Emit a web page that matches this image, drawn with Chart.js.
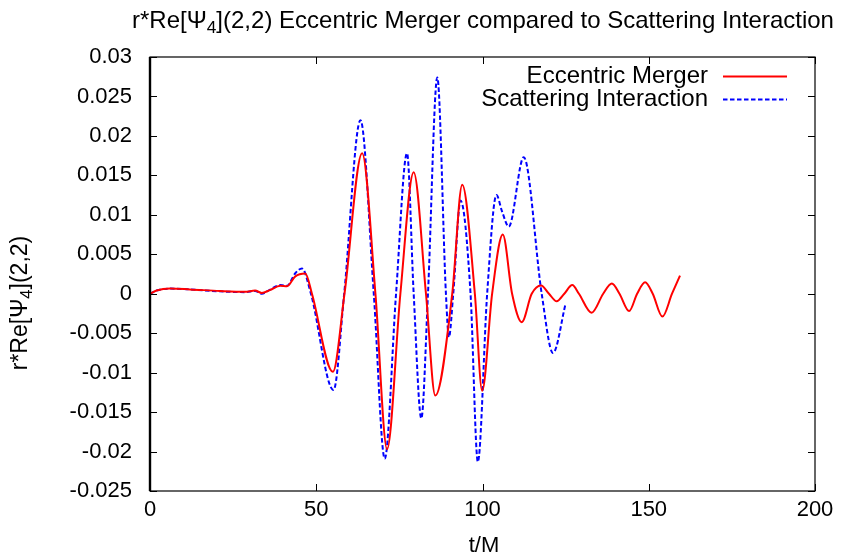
<!DOCTYPE html>
<html>
<head>
<meta charset="utf-8">
<script src="https://cdn.jsdelivr.net/npm/chart.js@4/dist/chart.umd.min.js"></script>
<style>
  html, body { margin: 0; padding: 0; background: #fff; }
  #wrap { width: 843px; height: 557px; }
</style>
</head>
<body>
<div id="wrap"><canvas id="c" width="843" height="557"></canvas></div>
<script>
// eccentric merger, r*Re[Psi4](2,2) vs t/M
const mergerT = [0, 2, 6, 12, 21, 28.6, 31.6, 33.6, 36, 39.2, 41.2, 43.7, 46.7, 48.7, 55.0, 58.5, 63.8, 67.8, 71.3, 75.3,
  79.3, 83.0, 85.8, 90.9, 93.9, 97.7, 99.9, 102.9, 106.1, 108.9, 111.8, 114.8, 117.6, 120.0, 122.3, 124.6, 127.0,
  129.0, 132.8, 136.3, 138.9, 141.2, 144.1, 146.5, 148.9, 151.2, 154.1, 157.0, 159.4]
const mergerV = [0, 0.0004, 0.00065, 0.00055, 0.00035, 0.00025, 0.0004, 0.0001, 0.00045, 0.001, 0.00095, 0.0022, 0.00255,
  0, -0.0099, 0, 0.0178, 0, -0.0197, 0, 0.0154, 0, -0.0129, 0, 0.0138, 0, -0.0123, 0, 0.0075, 0, -0.0036, 0, 0.00105,
  0, -0.00096, 0, 0.0011, 0, -0.0024, 0, 0.0013, 0, -0.0022, 0, 0.00145, 0, -0.0029, 0, 0.0023]

// scattering interaction
const scatterT = [0, 2, 6, 12, 21, 28.6, 31.6, 33.6, 36, 39.2, 41.2, 43.7, 45.7, 48.4, 55.2, 58.4, 63.3, 67.3, 70.6, 74.0,
  77.3, 79.3, 81.6, 83.6, 86.4, 89.0, 89.9, 91.2, 93.4, 96.4, 98.6, 101.4, 104.2, 105.9, 107.9, 112.4, 117.8, 121.2, 125.0]
const scatterV = [0, 0.0004, 0.00065, 0.00055, 0.0003, 0.0002, 0.00035, 0, 0.0005, 0.0011, 0.001, 0.0026, 0.0032,
  0, -0.0122, 0, 0.022, 0, -0.0209, 0, 0.0178, 0, -0.0158, 0, 0.0274, 0, -0.0055, 0, 0.0118, 0, -0.0213, 0, 0.0125,
  0.0104, 0.0085, 0.0173, 0, -0.0075, -0.00125]

const xTicks = [0, 50, 100, 150, 200]
const yTicks = [-0.025, -0.02, -0.015, -0.01, -0.005, 0, 0.005, 0.01, 0.015, 0.02, 0.025, 0.03]
const yTickLabels = ['-0.025', '-0.02', '-0.015', '-0.01', '-0.005', '0', '0.005', '0.01', '0.015', '0.02', '0.025', '0.03']

const FONT = '"Liberation Sans", Arial, sans-serif'

function toPoints(ts, vs) {
  return ts.map((t, i) => ({ x: t, y: vs[i] }))
}

// text with one subscript piece, e.g. Psi_4
function subText(ctx, parts, x, y, size) {
  const widths = parts.map(p => {
    ctx.font = (p[1] ? size * 0.72 : size) + 'px ' + FONT
    return ctx.measureText(p[0]).width
  })
  let cx = x - widths.reduce((a, b) => a + b, 0) / 2
  ctx.textAlign = 'left'
  ctx.textBaseline = 'middle'
  parts.forEach((p, i) => {
    ctx.font = (p[1] ? size * 0.72 : size) + 'px ' + FONT
    ctx.fillText(p[0], cx, p[1] ? y + size * 0.3 : y)
    cx += widths[i]
  })
}

const decor = {
  id: 'decor',
  afterDraw(chart) {
    const { ctx, chartArea: a, scales: { x, y } } = chart
    ctx.save()
    ctx.strokeStyle = '#000'
    ctx.fillStyle = '#000'

    // frame
    ctx.lineWidth = 1.2
    ctx.strokeRect(a.left, a.top, a.right - a.left, a.bottom - a.top)
    ctx.lineWidth = 2.4
    ctx.beginPath()
    ctx.moveTo(a.left, a.top)
    ctx.lineTo(a.left, a.bottom)
    ctx.stroke()

    // inward ticks, mirrored
    const tl = 7
    ctx.lineWidth = 1
    ctx.beginPath()
    xTicks.forEach(v => {
      const px = Math.round(x.getPixelForValue(v)) + 0.5
      ctx.moveTo(px, a.bottom); ctx.lineTo(px, a.bottom - tl)
      ctx.moveTo(px, a.top); ctx.lineTo(px, a.top + tl)
    })
    yTicks.forEach(v => {
      const py = Math.round(y.getPixelForValue(v)) + 0.5
      ctx.moveTo(a.left, py); ctx.lineTo(a.left + tl, py)
      ctx.moveTo(a.right, py); ctx.lineTo(a.right - tl, py)
    })
    ctx.stroke()

    // title
    subText(ctx, [['r*Re[Ψ', 0], ['4', 1], ['](2,2) Eccentric Merger compared to Scattering Interaction', 0]], 483, 21, 24)

    // axis titles
    ctx.font = '22px ' + FONT
    ctx.textAlign = 'center'
    ctx.textBaseline = 'middle'
    ctx.fillText('t/M', 484, 546)
    ctx.save()
    ctx.translate(21, 303)
    ctx.rotate(-Math.PI / 2)
    subText(ctx, [['r*Re[Ψ', 0], ['4', 1], ['](2,2)', 0]], 0, 0, 23)
    ctx.restore()

    // legend
    const rows = [
      { label: 'Eccentric Merger', ds: chart.data.datasets[0], y: 76 },
      { label: 'Scattering Interaction', ds: chart.data.datasets[1], y: 99 },
    ]
    rows.forEach(r => {
      ctx.font = '24px ' + FONT
      ctx.textAlign = 'right'
      ctx.textBaseline = 'middle'
      ctx.fillStyle = '#000'
      ctx.fillText(r.label, 708, r.y)
      ctx.strokeStyle = r.ds.borderColor
      ctx.lineWidth = r.ds.borderWidth
      ctx.setLineDash(r.ds.borderDash || [])
      ctx.beginPath()
      ctx.moveTo(723, r.y + 0.5)
      ctx.lineTo(787, r.y + 0.5)
      ctx.stroke()
      ctx.setLineDash([])
    })
    ctx.restore()
  }
}

new Chart(document.getElementById('c'), {
  type: 'line',
  data: {
    datasets: [
      {
        label: 'Eccentric Merger',
        data: toPoints(mergerT, mergerV),
        borderColor: '#ff0000',
        borderWidth: 2,
        pointRadius: 0,
        cubicInterpolationMode: 'monotone',
      },
      {
        label: 'Scattering Interaction',
        data: toPoints(scatterT, scatterV),
        borderColor: '#0000ff',
        borderWidth: 2,
        borderDash: [4.5, 2.5],
        pointRadius: 0,
        cubicInterpolationMode: 'monotone',
      }
    ]
  },
  options: {
    responsive: false,
    animation: false,
    layout: { padding: { left: 0, right: 28, top: 57, bottom: 0 } },
    scales: {
      x: {
        type: 'linear',
        min: 0,
        max: 200,
        grid: { display: false, drawTicks: false },
        border: { display: false },
        afterFit: (s) => { s.height = 66 },
        afterBuildTicks: (s) => { s.ticks = xTicks.map(v => ({ value: v })) },
        ticks: {
          color: '#000',
          padding: 6,
          maxRotation: 0,
          font: { family: FONT, size: 22 },
          callback: (v) => String(v)
        }
      },
      y: {
        min: -0.025,
        max: 0.03,
        grid: { display: false, drawTicks: false },
        border: { display: false },
        afterFit: (s) => { s.width = 150 },
        afterBuildTicks: (s) => { s.ticks = yTicks.map(v => ({ value: v })) },
        ticks: {
          color: '#000',
          padding: 18,
          font: { family: FONT, size: 22 },
          callback: (v) => yTickLabels[yTicks.findIndex(t => Math.abs(t - v) < 1e-9)]
        }
      }
    },
    plugins: {
      legend: { display: false },
      tooltip: { enabled: false },
      title: { display: false }
    }
  },
  plugins: [decor]
})
</script>
</body>
</html>
